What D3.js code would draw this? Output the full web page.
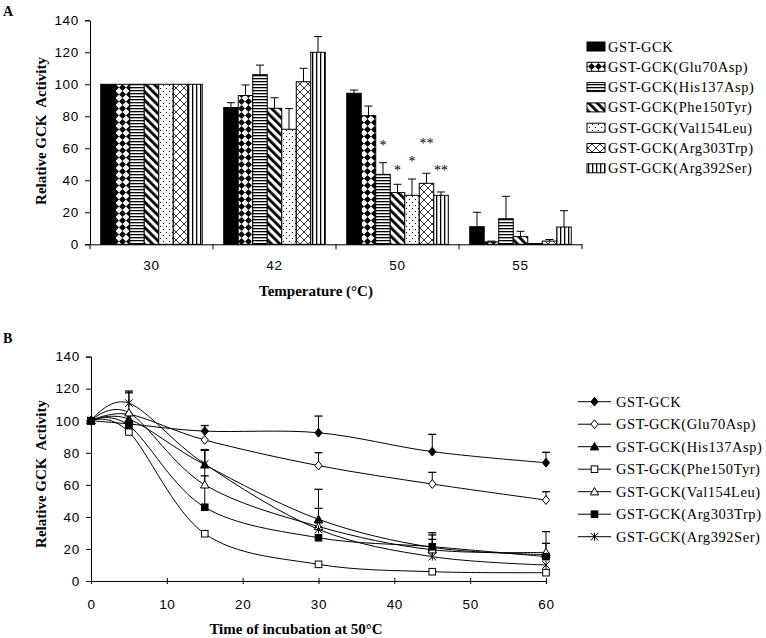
<!DOCTYPE html>
<html><head><meta charset="utf-8">
<script src="https://cdn.jsdelivr.net/npm/d3@7"></script>
<style>
body{margin:0;background:#fff;}
svg{display:block;}
.tick text{font-family:"Liberation Sans",Arial,sans-serif;font-size:13.5px;letter-spacing:0.7px;fill:#000;}
.serif{font-family:"Liberation Serif","Times New Roman",serif;fill:#000;}
.leg{letter-spacing:0.55px;}
</style></head>
<body>
<svg id="chart" width="766" height="638"></svg>
<script>
// ---------- Data: panel A (bars) ----------
const seriesNames = ["GST-GCK","GST-GCK(Glu70Asp)","GST-GCK(His137Asp)","GST-GCK(Phe150Tyr)","GST-GCK(Val154Leu)","GST-GCK(Arg303Trp)","GST-GCK(Arg392Ser)"];
const tempCategories = ["30","42","50","55"];
const barGST      = [100, 85.5, 94.4, 11];
const barGlu70Asp = [100, 93, 80.4, 1.5];
const barHis137Asp= [100, 106, 43.7, 16];
const barPhe150Tyr= [100, 85, 32.3, 4.8];
const barVal154Leu= [100, 71.9, 30.6, 0.5];
const barArg303Trp= [100, 101.6, 38.1, 2];
const barArg392Ser= [100, 120, 30.6, 10.8];
const errGST      = [0, 3, 2, 9];
const errGlu70Asp = [0, 6.6, 6, 0.5];
const errHis137Asp= [0, 6, 7.3, 14];
const errPhe150Tyr= [0, 6.6, 5.2, 3.3];
const errVal154Leu= [0, 12.9, 10.2, 0];
const errArg303Trp= [0, 8.4, 6.3, 1];
const errArg392Ser= [0, 9.8, 2.1, 10.2];
const yTicksA = [0,20,40,60,80,100,120,140];
// significance marks: category, series index, text, y-value where drawn
const sigCat   = ["50","50","50","50","50"];
const sigSer   = [2,3,4,5,6];
const sigText  = ["*","*","*","**","**"];
const sigY     = [63,47,53,64,47];

// ---------- Data: panel B (lines) ----------
const timesB = [0,5,15,30,45,60];
const lineGST      = [100, 98, 93.5, 92.5, 80.7, 73.8];
const lineGlu70Asp = [100, 104, 88, 72, 60.5, 50.5];
const lineHis137Asp= [100, 101, 72.5, 38.5, 21, 16.5];
const linePhe150Tyr= [100, 93, 29.5, 10.4, 5.8, 5.2];
const lineVal154Leu= [100, 105, 60, 34, 19.5, 17.9];
const lineArg303Trp= [100, 97, 46, 27, 21.4, 15.2];
const lineArg392Ser= [100, 111, 73, 32.2, 15.2, 10];
const lerrGST      = [0, 0, 3.5, 10.4, 10.8, 6.5];
const lerrGlu70Asp = [0, 0, 0, 8, 7.3, 5.2];
const lerrHis137Asp= [0, 0, 9, 18.7, 7.7, 14.3];
const lerrPhe150Tyr= [0, 0, 0, 0, 0, 0];
const lerrVal154Leu= [0, 12.4, 5.6, 11.3, 6.5, 5.6];
const lerrArg303Trp= [0, 0, 35.5, 0, 8.7, 0];
const lerrArg392Ser= [0, 7.5, 9, 4, 3, 0];
const xTicksB = [0,10,20,30,40,50,60];
const yTicksB = [0,20,40,60,80,100,120,140];
const markerTypes = ["diamondFilled","diamondOpen","triangleFilled","squareOpen","triangleOpen","squareFilled","star"];

const barVals = [barGST,barGlu70Asp,barHis137Asp,barPhe150Tyr,barVal154Leu,barArg303Trp,barArg392Ser];
const barErrs = [errGST,errGlu70Asp,errHis137Asp,errPhe150Tyr,errVal154Leu,errArg303Trp,errArg392Ser];
const lineVals = [lineGST,lineGlu70Asp,lineHis137Asp,linePhe150Tyr,lineVal154Leu,lineArg303Trp,lineArg392Ser];
const lineErrs = [lerrGST,lerrGlu70Asp,lerrHis137Asp,lerrPhe150Tyr,lerrVal154Leu,lerrArg303Trp,lerrArg392Ser];

const svg = d3.select("#chart");
svg.append("rect").attr("width",766).attr("height",638).attr("fill","#fff");

// ---------- Patterns ----------
const defs = svg.append("defs");
function pat(id,w,h,transform){
  const p = defs.append("pattern").attr("id",id).attr("patternUnits","userSpaceOnUse").attr("width",w).attr("height",h);
  if(transform) p.attr("patternTransform",transform);
  p.append("rect").attr("width",w).attr("height",h).attr("fill","#fff");
  return p;
}
let p;
p = pat("pDiamond",7,7);
p.append("polygon").attr("points","3.5,0 7,3.5 3.5,7 0,3.5").attr("fill","#000");
p = pat("pHoriz",4,3);
p.append("rect").attr("width",4).attr("height",1.3).attr("fill","#000");
p = pat("pDiag",6,6,"rotate(-45)");
p.append("rect").attr("width",2.8).attr("height",6).attr("fill","#000");
p = pat("pDots",6,6);
p.append("rect").attr("x",1).attr("y",1).attr("width",1).attr("height",1).attr("fill","#000");
p.append("rect").attr("x",4).attr("y",4).attr("width",1).attr("height",1).attr("fill","#000");
p = pat("pCross",8,8);
p.append("path").attr("d","M0,8L8,0M0,0L8,8M-1,1L1,-1M7,9L9,7M-1,7L1,9M7,-1L9,1").attr("stroke","#000").attr("stroke-width",0.8);
p = pat("pVert",4,4);
p.append("rect").attr("width",1.3).attr("height",4).attr("fill","#000");
const fills = ["#000","url(#pDiamond)","url(#pHoriz)","url(#pDiag)","url(#pDots)","url(#pCross)","url(#pVert)"];

// ---------- Panel A ----------
const xA = d3.scaleBand().domain(tempCategories).range([90,582]).padding(0);
const xA1 = d3.scaleBand().domain(d3.range(seriesNames.length)).range([0,xA.bandwidth()]).paddingInner(0).paddingOuter(0.74);
const yA = d3.scaleLinear().domain([0,140]).range([244.3,20.3]);

const gA = svg.append("g");
const yAxisA = d3.axisLeft(yA).tickValues(yTicksA).tickSize(5).tickPadding(6);
gA.append("g").attr("transform","translate(90,0)").call(yAxisA)
  .call(g=>g.selectAll("path,line").attr("stroke","#000"));

seriesNames.forEach((s,i)=>{
  const g = gA.append("g");
  tempCategories.forEach((c,j)=>{
    const v = barVals[i][j], e = barErrs[i][j];
    const x = xA(c)+xA1(i), w = xA1.bandwidth();
    g.append("rect").attr("x",x).attr("y",yA(v)).attr("width",w).attr("height",yA(0)-yA(v))
      .attr("fill",fills[i]).attr("stroke","#000").attr("stroke-width",1);
    if(e>0){
      const cx = x+w/2;
      g.append("line").attr("x1",cx).attr("x2",cx).attr("y1",yA(v)).attr("y2",yA(v+e)).attr("stroke","#000");
      g.append("line").attr("x1",cx-4).attr("x2",cx+4).attr("y1",yA(v+e)).attr("y2",yA(v+e)).attr("stroke","#000");
    }
  });
});
const xAxisA = d3.axisBottom(xA).tickSize(0).tickPadding(16);
const gxA = gA.append("g").attr("transform",`translate(0,${yA(0)})`).call(xAxisA);
gxA.select("path").attr("stroke","#000");
gxA.selectAll(".bound").data(tempCategories.concat(["end"])).enter().append("line")
  .attr("x1",(d,i)=> i<tempCategories.length ? xA(d) : xA.range()[1])
  .attr("x2",(d,i)=> i<tempCategories.length ? xA(d) : xA.range()[1])
  .attr("y1",0).attr("y2",5).attr("stroke","#000");

sigText.forEach((t,k)=>{
  const cx = xA(sigCat[k]) + xA1(sigSer[k]) + xA1.bandwidth()/2;
  gA.append("text").attr("class","serif").attr("x",cx).attr("y",yA(sigY[k])+6)
    .attr("text-anchor","middle").attr("font-size",14).attr("fill","#000").text(t);
});

gA.append("text").attr("class","serif").attr("x",316).attr("y",296).attr("text-anchor","middle")
  .attr("font-weight","bold").attr("font-size",15).text("Temperature (°C)");
gA.append("text").attr("class","serif").attr("transform","translate(46,131) rotate(-90)").attr("text-anchor","middle")
  .attr("font-weight","bold").attr("font-size",15).attr("xml:space","preserve").text("Relative GCK  Activity");
gA.append("text").attr("class","serif").attr("x",3).attr("y",16).attr("font-weight","bold").attr("font-size",14).text("A");

const legA = gA.append("g");
seriesNames.forEach((s,i)=>{
  const cy = 46.5 + i*20.3;
  legA.append("rect").attr("x",587).attr("y",cy-4.5).attr("width",18).attr("height",9)
    .attr("fill",fills[i]).attr("stroke","#000").attr("stroke-width",1);
  legA.append("text").attr("class","serif leg").attr("x",608).attr("y",cy+5).attr("font-size",14.5).text(s);
});

// ---------- Panel B ----------
const xB = d3.scaleLinear().domain([0,60]).range([91,546]);
const yB = d3.scaleLinear().domain([0,140]).range([581,356.6]);
const gB = svg.append("g");
gB.append("g").attr("transform","translate(91,0)")
  .call(d3.axisLeft(yB).tickValues(yTicksB).tickSize(5).tickPadding(6))
  .call(g=>g.selectAll("path,line").attr("stroke","#000"));
const gxB = gB.append("g").attr("transform",`translate(0,${yB(0)})`)
  .call(d3.axisBottom(xB).tickValues(xTicksB).tickSize(3).tickPadding(15).tickSizeOuter(0));
gxB.selectAll("path").attr("stroke","#000");
gxB.selectAll(".tick line").attr("y1",-3).attr("y2",3).attr("stroke","#000");

const lineGen = d3.line().x(d=>xB(d[0])).y(d=>yB(d[1])).curve(d3.curveCardinal.tension(0));

function marker(g,type,x,y){
  const r = 3.6;
  if(type==="diamondFilled"||type==="diamondOpen"){
    g.append("path").attr("d",`M${x},${y-r-0.8}L${x+r},${y}L${x},${y+r+0.8}L${x-r},${y}Z`)
      .attr("fill",type==="diamondFilled"?"#000":"#fff").attr("stroke","#000");
  } else if(type==="squareFilled"||type==="squareOpen"){
    g.append("rect").attr("x",x-3.3).attr("y",y-3.3).attr("width",6.6).attr("height",6.6)
      .attr("fill",type==="squareFilled"?"#000":"#fff").attr("stroke","#000");
  } else if(type==="triangleFilled"||type==="triangleOpen"){
    g.append("path").attr("d",`M${x},${y-4.2}L${x+4.2},${y+3.2}L${x-4.2},${y+3.2}Z`)
      .attr("fill",type==="triangleFilled"?"#000":"#fff").attr("stroke","#000");
  } else if(type==="star"){
    g.append("path").attr("d",`M${x-3.8},${y-3.8}L${x+3.8},${y+3.8}M${x-3.8},${y+3.8}L${x+3.8},${y-3.8}M${x},${y-4}L${x},${y+4}`)
      .attr("fill","none").attr("stroke","#000");
  }
}

seriesNames.forEach((s,i)=>{
  const pts = timesB.map((t,j)=>[t,lineVals[i][j]]);
  gB.append("path").attr("d",lineGen(pts)).attr("fill","none").attr("stroke","#000").attr("stroke-width",1);
});
seriesNames.forEach((s,i)=>{
  const g = gB.append("g");
  timesB.forEach((t,j)=>{
    const v = lineVals[i][j], e = lineErrs[i][j];
    if(e>0){
      g.append("line").attr("x1",xB(t)).attr("x2",xB(t)).attr("y1",yB(v)).attr("y2",yB(v+e)).attr("stroke","#000");
      g.append("line").attr("x1",xB(t)-4).attr("x2",xB(t)+4).attr("y1",yB(v+e)).attr("y2",yB(v+e)).attr("stroke","#000").attr("stroke-width",1.3);
    }
  });
});
seriesNames.forEach((s,i)=>{
  const g = gB.append("g");
  timesB.forEach((t,j)=> marker(g,markerTypes[i],xB(t),yB(lineVals[i][j])));
});

gB.append("text").attr("class","serif").attr("x",296).attr("y",634).attr("text-anchor","middle")
  .attr("font-weight","bold").attr("font-size",15).text("Time of incubation at 50°C");
gB.append("text").attr("class","serif").attr("transform","translate(46,474) rotate(-90)").attr("text-anchor","middle")
  .attr("font-weight","bold").attr("font-size",15).attr("xml:space","preserve").text("Relative GCK  Activity");
gB.append("text").attr("class","serif").attr("x",3).attr("y",343).attr("font-weight","bold").attr("font-size",14).text("B");

seriesNames.forEach((s,i)=>{
  const cy = 401.7 + i*22.5;
  const g = gB.append("g");
  g.append("line").attr("x1",578).attr("x2",611).attr("y1",cy).attr("y2",cy).attr("stroke","#000");
  marker(g,markerTypes[i],594.5,cy);
  g.append("text").attr("class","serif leg").attr("x",616).attr("y",cy+5).attr("font-size",14.5).text(s);
});
</script>
</body></html>
